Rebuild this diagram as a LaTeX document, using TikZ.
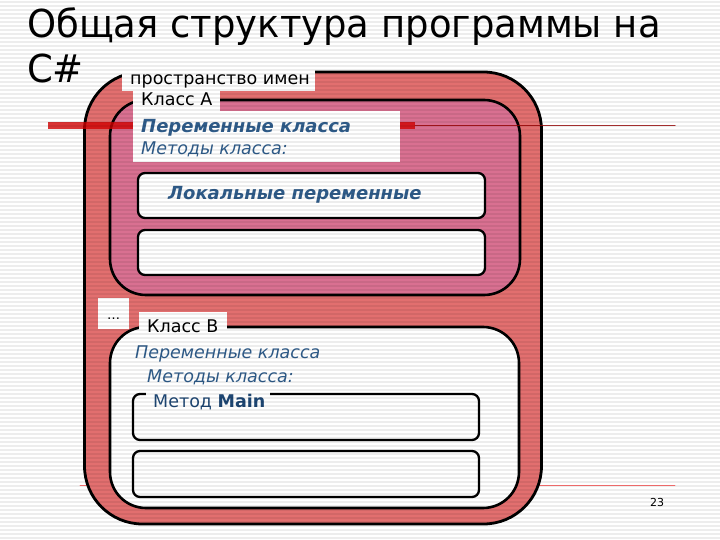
\documentclass[tikz,border=0pt]{standalone}
\usepackage{fontspec}
\usepackage{graphicx}
\setmainfont{DejaVu Sans}
\usetikzlibrary{positioning}
\definecolor{paper}{HTML}{FFFFFF}
\definecolor{nsred}{HTML}{E26F6F}
\definecolor{clpink}{HTML}{D97091}
\definecolor{barred}{HTML}{D10000}
\definecolor{txtblue}{HTML}{2F5C8A}
\definecolor{mainblue}{HTML}{1E4774}
\newcommand\bodyfs{\fontsize{17.5}{21}\selectfont}
\newcommand\boldfs{\fontsize{18}{21}\selectfont\bfseries\itshape}
\newcommand\labtext[2]{\makebox[#1][l]{#2}}
\tikzset{el/.style={line cap=round, line join=round},
  fr/.style={draw=black, line width=2.8pt, rounded corners=#1, inner sep=0pt},
  box/.style={draw=black, line width=2.3pt, rounded corners=7pt, fill=paper, inner sep=0pt},
  lbl/.style={fill=paper, inner ysep=0pt, inner xsep=8pt, anchor=base west, font=\bodyfs},
  vtxt/.style={anchor=base west, font=\bodyfs\itshape, text=txtblue, inner sep=0pt},
  ttl/.style={anchor=base west, inner sep=0pt, font=\fontsize{38.5}{44}\selectfont}}

\begin{document}
\begin{tikzpicture}[x=1pt,y=-1pt,el]
  \useasboundingbox (0,0) rectangle (720,540);
  \fill[paper] (0,0) rectangle (720,540);
  \node[ttl] (t1) at (27,38) {\scalebox{0.96}[1]{Общая структура программы на}};
  \node[ttl] (t2) at (27,83) {\scalebox{0.96}[1]{C\#}};
  \draw[red!55, line width=0.8pt] (80,485) -- (675,485);
  % namespace and classes
  \node[fr=58pt, fill=nsred, minimum width=457pt, minimum height=452pt] (ns) at (313,298) {};
  \node[fr=36pt, fill=clpink, line width=2.6pt, minimum width=410pt, minimum height=195pt] (clA) at (315,197.5) {};
  \node[fr=36pt, fill=paper, line width=2.6pt, minimum width=409pt, minimum height=181pt] (clB) at (314.5,417.5) {};
  \foreach \n/\y in {a1/195.5, a2/252.5}{\node[box, minimum width=347pt, minimum height=45pt] (\n) at (311.5,\y) {};}
  \foreach \n/\y in {b1/417, b2/474}{\node[box, minimum width=346pt, minimum height=46pt] (\n) at (306,\y) {};}
  \draw[barred, line width=7pt, opacity=.8, line cap=butt] (48,126) -- (415,126);
  \draw[barred!75!black, line width=1pt, opacity=.8] (415,126) -- (675,126);
  % labels on the frames
  \node[lbl, text height=18pt, text depth=6pt] (nslbl) at (122,85) {\labtext{177pt}{пространство имен}};
  \node[lbl, text height=16pt, text depth=5pt] (clAlbl) at (133,106) {\labtext{71pt}{Класс А}};
  \node[lbl, text height=22pt, text depth=7pt, font=\boldfs, text=txtblue] (avars) at (133,133) {\labtext{251pt}{Переменные класса}};
  \node[lbl, text height=15pt, text depth=7pt, font=\bodyfs\itshape, text=txtblue] (ameth) at (133,155) {\labtext{251pt}{Методы класса:}};
  \node[vtxt, font=\boldfs] (alocal) at (168,200) {Локальные переменные};
  \node[fill=paper, minimum width=31pt, inner sep=0pt, text height=21pt, text depth=10pt, anchor=base, font=\fontsize{13}{15}\selectfont] (dots) at (113.5,319) {…};
  \node[lbl, text height=20pt, text depth=3pt] (clBlbl) at (139,332) {\labtext{72pt}{Класс В}};
  \node[vtxt] (bvars) at (135,358) {Переменные класса};
  \node[vtxt] (bmeth) at (147,382) {Методы класса:};
  \node[lbl, inner xsep=7pt, text height=19pt, text depth=3pt, text=mainblue] (mainlbl) at (146,407) {\labtext{110pt}{Метод \textbf{Main}}};
  \node[font=\fontsize{11}{13}\selectfont] (pgnum) at (657,502) {23};
  % scan lines of the slide
  \foreach \y in {2,6,...,538}{\draw[black, opacity=.07, line width=1.2pt, line cap=butt] (0,\y) -- (720,\y);}
\end{tikzpicture}
\end{document}
